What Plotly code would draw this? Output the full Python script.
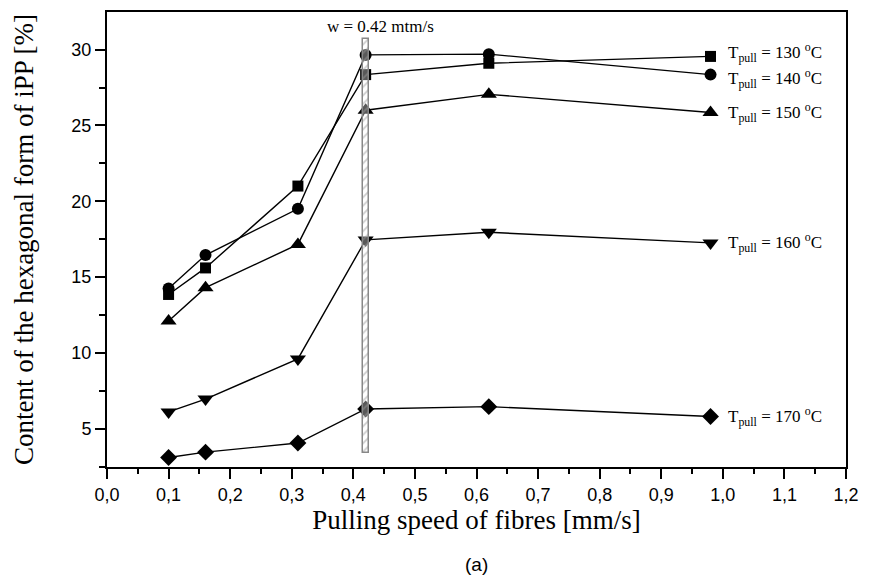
import plotly.graph_objects as go

speed = [0.1, 0.16, 0.31, 0.42, 0.62, 0.98]
t130 = [13.85, 15.6, 21.0, 28.35, 29.1, 29.55]
t140 = [14.25, 16.45, 19.5, 29.65, 29.7, 28.35]
t150 = [12.1, 14.3, 17.15, 26.0, 27.05, 25.85]
t160 = [6.1, 6.95, 9.6, 17.45, 17.95, 17.25]
t170 = [3.1, 3.45, 4.05, 6.3, 6.45, 5.8]

series = [
    ("130", t130, "square"),
    ("140", t140, "circle"),
    ("150", t150, "triangle-up"),
    ("160", t160, "triangle-down"),
    ("170", t170, "diamond"),
]
label_y = [29.55, 28.35, 25.85, 17.25, 5.8]
label_shift = [4, -4, 0, 0, 0]
marker_size = {"square": 11, "circle": 12, "triangle-up": 14, "triangle-down": 14, "diamond": 13}

x_ticks = [i / 10 for i in range(13)]
x_ticklabels = [f"{v:.1f}".replace(".", ",") for v in x_ticks]
y_ticks = [5, 10, 15, 20, 25, 30]

band_x = 0.42
band_low, band_high = 3.4, 30.7

fig = go.Figure()
for name, ys, sym in series:
    fig.add_trace(go.Scatter(
        x=speed, y=ys, mode="lines+markers", name=name,
        line=dict(color="black", width=1.4),
        marker=dict(symbol=sym, size=marker_size[sym], color="black"),
        showlegend=False,
    ))

fig.add_trace(go.Bar(
    x=[band_x], y=[band_high - band_low], base=[band_low], width=[0.01],
    xaxis="x2", yaxis="y2",
    marker=dict(color="rgba(255,255,255,0.35)", line=dict(color="#888", width=1.5),
                pattern=dict(shape="/", fgcolor="#999", size=6, solidity=0.3)),
    showlegend=False,
))

serif = "Liberation Serif, Times New Roman, serif"
sans = "Liberation Sans, Arial, sans-serif"

for (name, ys, sym), ly, sh in zip(series, label_y, label_shift):
    fig.add_annotation(
        x=0.98, y=ly, xref="x", yref="y", xshift=15, yshift=sh,
        xanchor="left", yanchor="middle",
        text=f"T<sub>pull</sub> = {name} <sup>o</sup>C", showarrow=False,
        font=dict(family=serif, size=17, color="black"),
    )

fig.add_annotation(x=0.444, y=31.5, xref="x", yref="y", text="w = 0.42 mtm/s",
                   showarrow=False, font=dict(family=serif, size=17, color="black"))
fig.add_annotation(x=0.5, y=-0.215, xref="paper", yref="paper", text="(a)",
                   showarrow=False, yanchor="middle",
                   font=dict(family=sans, size=19, color="black"))

xrng = [0, 1.2]
yrng = [2.47, 32.48]
axis_common = dict(showgrid=False, zeroline=False, linecolor="black", linewidth=2,
                   ticks="outside", tickcolor="black", tickwidth=1.5, ticklen=10,
                   mirror=True, tickfont=dict(family=sans, size=18, color="black"))

fig.update_layout(
    width=869, height=584,
    margin=dict(l=107, r=15, t=10, b=117),
    plot_bgcolor="white", paper_bgcolor="white",
    xaxis=dict(range=xrng, tickvals=x_ticks, ticktext=x_ticklabels,
               minor=dict(dtick=0.05, ticks="outside", ticklen=5, tickcolor="black", tickwidth=1.5),
               title=dict(text="Pulling speed of fibres [mm/s]",
                          font=dict(family=serif, size=27, color="black"), standoff=6),
               **axis_common),
    yaxis=dict(range=yrng, tickvals=y_ticks,
               minor=dict(dtick=2.5, tick0=0, ticks="outside", ticklen=6, tickcolor="black", tickwidth=1.5),
               title=dict(text="Content of the hexagonal form of iPP [%]",
                          font=dict(family=serif, size=27, color="black"), standoff=30),
               **axis_common),
    xaxis2=dict(range=xrng, overlaying="x", visible=False),
    yaxis2=dict(range=yrng, overlaying="y", visible=False),
    bargap=0,
)

fig.write_html("out.html")
